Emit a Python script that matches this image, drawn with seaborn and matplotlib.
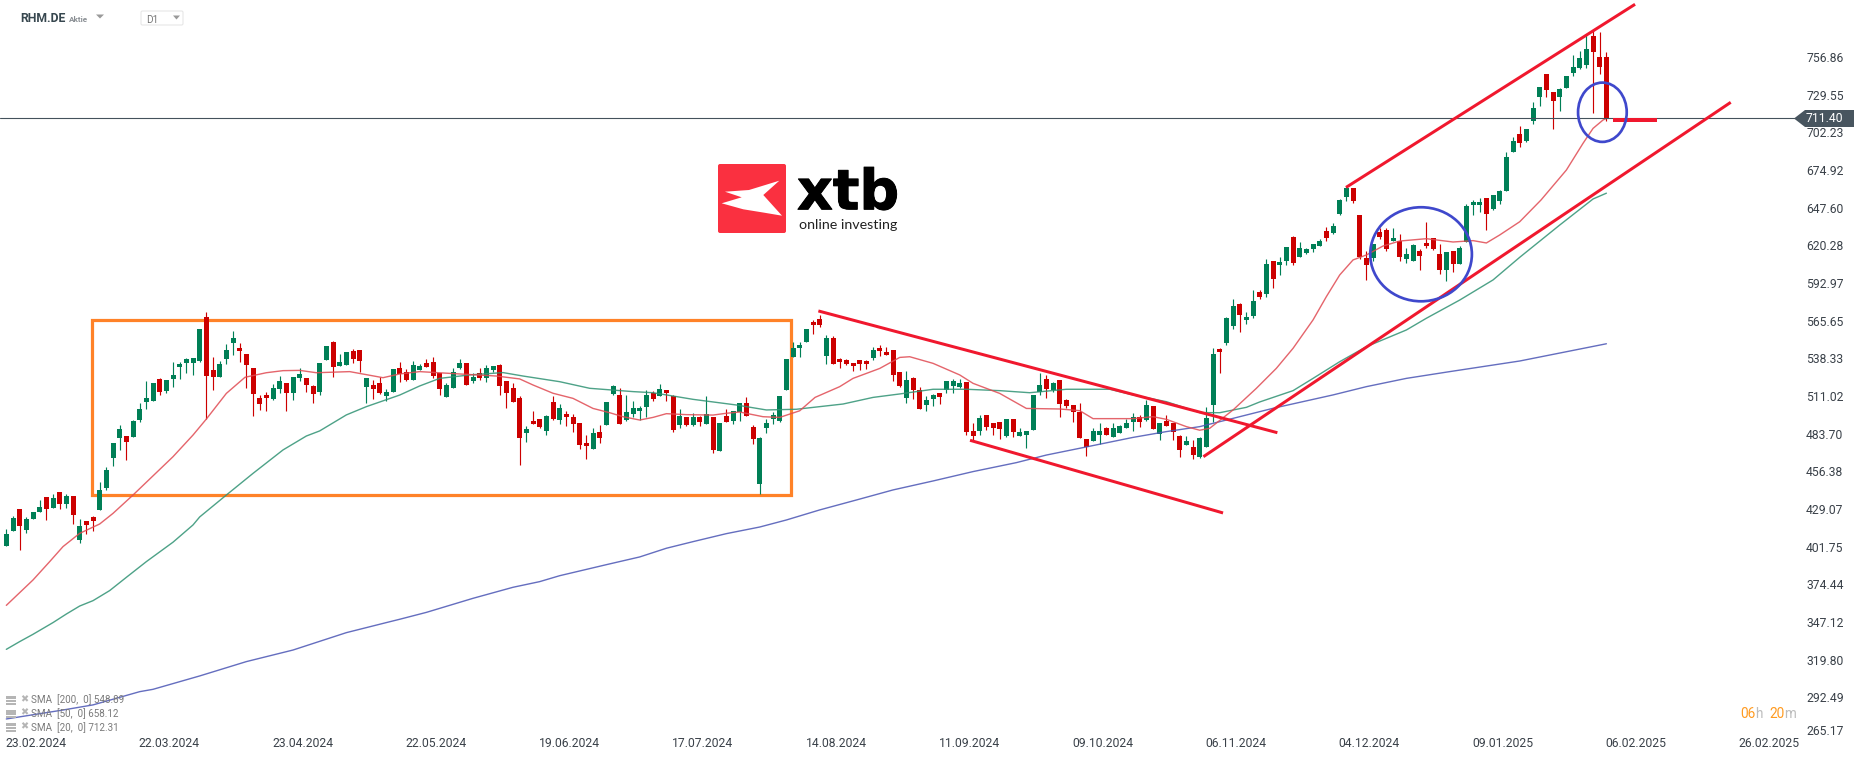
import numpy as np
import pandas as pd
import seaborn as sns
import matplotlib
matplotlib.use("Agg")
import matplotlib.pyplot as plt
import matplotlib.patheffects as pe
from matplotlib.patches import Rectangle, Ellipse, Polygon, FancyBboxPatch
from matplotlib.transforms import ScaledTranslation

opens = [402.5,413.4,429.1,414.1,421.8,426.9,437.8,429.8,441.4,432.7,
438.5,406.6,420.4,423.3,428.4,444.3,466.1,480.6,482.0,481.3,
493.6,506.7,507.4,523.4,514.6,523.4,532.1,535.0,535.0,536.4,
568.3,529.9,524.8,537.9,549.5,545.8,541.5,531.3,509.6,511.8,
508.9,516.1,520.5,513.2,524.1,524.1,518.3,513.9,537.1,550.2,
532.8,533.5,543.7,544.4,517.6,519.0,520.5,511.0,513.9,531.3,
528.4,522.6,529.9,535.0,535.7,527.7,510.3,516.8,531.3,535.0,
521.9,527.7,524.1,529.9,533.5,521.9,516.8,509.6,484.2,492.9,
494.3,485.6,506.7,493.6,498.0,495.8,491.4,476.9,472.6,484.9,
490.0,512.5,511.8,493.6,498.0,500.2,503.1,513.2,511.0,515.4,
511.0,490.0,495.8,490.0,495.8,490.7,495.8,471.2,496.5,492.9,
499.4,505.9,488.5,447.2,487.8,494.3,492.9,515.4,539.3,545.8,
550.2,564.7,566.9,540.0,553.1,537.9,537.1,535.0,537.1,536.4,
538.6,545.8,542.9,544.4,528.4,509.6,524.1,515.4,504.5,508.9,
513.2,515.4,518.3,517.6,521.2,485.6,485.6,497.2,491.4,492.2,
482.0,494.3,482.0,482.7,486.4,513.9,523.4,515.4,522.6,508.1,
504.5,499.4,479.9,478.4,482.7,487.8,481.3,484.2,487.8,492.2,
495.8,493.6,503.8,483.5,492.9,491.4,482.0,475.5,474.0,466.6,
474.3,504.5,545.1,549.5,561.8,577.8,566.1,569.0,586.4,585.0,
608.9,606.0,608.9,626.3,611.8,614.7,617.6,619.8,630.7,629.2,
643.0,655.3,661.9,642.3,611.1,611.1,630.0,631.4,623.4,623.4,
610.4,608.9,616.2,622.0,625.6,614.0,602.4,616.2,606.8,622.7,
649.5,649.5,654.6,646.6,652.4,659.7,688.0,701.0,696.0,710.5,
727.9,744.5,731.5,727.9,734.4,745.3,748.9,751.1,772.1,756.9,756.9]

highs = [414.6,424.0,429.1,423.3,426.9,435.6,437.8,440.0,441.4,440.0,
438.5,421.8,420.4,424.0,448.7,459.5,476.9,490.0,482.0,493.6,
505.9,521.9,520.5,524.1,522.6,535.7,535.7,538.6,538.6,559.6,
571.9,539.3,536.4,548.7,558.2,549.5,541.5,531.3,511.8,513.9,
519.7,525.5,520.5,524.8,531.3,524.1,519.0,535.0,547.3,550.9,
541.5,542.9,545.1,544.4,524.1,522.6,524.8,516.1,530.6,535.7,
530.6,536.4,534.0,537.9,539.3,527.7,520.5,531.3,537.9,535.0,
527.7,531.3,533.5,532.8,534.2,521.9,520.5,511.0,489.3,500.2,
494.3,497.2,511.0,505.2,500.2,498.0,491.4,482.7,487.8,490.0,
506.7,519.0,516.8,511.8,507.4,503.8,515.4,514.6,519.7,515.4,
511.8,501.6,495.8,498.7,496.5,511.0,495.8,491.4,501.6,500.2,
505.9,510.3,490.0,481.3,494.3,499.4,511.0,537.9,550.2,550.2,
559.6,566.1,569.8,555.3,554.5,538.6,537.9,535.0,537.1,537.1,
546.6,548.0,546.6,544.4,528.4,529.2,524.8,517.6,511.0,512.5,
513.2,521.9,523.4,523.4,521.2,491.4,497.2,497.2,491.4,492.2,
494.3,494.3,487.8,485.6,511.8,527.7,526.3,521.2,522.6,508.9,
504.5,505.9,479.9,487.8,491.4,488.5,491.4,490.0,494.3,498.7,
497.2,508.1,503.8,491.4,497.2,491.4,482.7,482.0,479.1,481.3,
503.1,545.8,545.8,568.3,581.4,578.5,572.0,587.9,587.9,610.4,
608.9,611.8,619.1,627.1,622.7,618.4,621.3,624.9,633.6,636.5,
653.9,663.3,661.9,642.3,616.2,621.3,632.9,632.9,632.9,628.5,
618.4,621.3,617.6,637.2,625.6,621.3,615.4,616.2,619.8,650.3,
653.2,654.6,654.6,656.8,660.4,688.0,698.9,706.8,704.7,724.2,
735.1,744.5,731.5,734.4,743.1,758.3,761.2,772.8,776.4,775.0,760.5]

lows = [402.5,413.4,399.6,411.9,421.8,426.9,421.1,429.8,429.1,429.8,
418.2,404.4,411.0,413.1,428.4,442.9,460.3,471.9,464.6,481.3,
492.2,501.6,507.4,511.8,513.2,517.6,523.4,527.7,526.3,535.7,
494.3,515.4,524.8,534.2,540.8,535.7,516.8,496.5,500.9,500.2,
508.1,513.2,500.2,508.1,521.9,513.9,505.9,511.8,537.1,524.8,
532.8,533.5,535.0,528.4,505.9,508.9,512.5,507.4,513.9,521.2,
521.9,522.6,529.9,532.1,524.1,511.8,510.3,516.8,530.6,519.0,
520.5,522.6,521.2,528.4,511.8,502.3,506.7,461.0,477.7,490.7,
487.8,482.7,493.6,490.7,489.3,484.9,472.6,465.3,472.6,476.9,
490.0,511.8,490.7,492.9,495.8,493.6,495.8,507.4,511.0,507.4,
484.9,487.8,489.3,489.3,489.3,490.7,469.7,471.2,492.2,490.7,
492.9,496.5,476.2,439.9,484.2,490.7,492.2,515.4,539.3,539.3,
550.2,556.0,561.1,534.2,534.2,531.3,533.5,529.2,529.9,530.6,
537.1,540.0,540.8,521.9,517.6,505.9,508.9,501.6,500.2,503.8,
505.2,513.2,513.2,516.8,482.7,479.1,482.7,486.4,482.7,479.9,
481.3,481.3,482.0,473.3,486.4,511.8,509.6,513.9,495.8,502.3,
492.2,480.6,467.5,478.4,476.2,482.7,481.3,484.2,487.8,485.6,
488.5,492.9,487.1,479.1,489.3,479.1,466.8,475.5,465.3,465.8,
474.3,492.2,527.7,548.0,559.6,557.4,563.2,567.6,581.4,582.8,
589.3,598.8,606.0,606.0,611.8,614.0,615.4,619.8,623.4,628.5,
642.3,652.4,651.0,610.4,595.2,608.9,624.9,616.2,623.4,608.9,
607.5,608.9,602.4,618.4,616.9,599.5,594.4,601.0,606.8,622.7,
642.3,644.5,631.4,645.9,650.3,659.7,688.0,691.6,695.2,708.3,
721.3,727.9,704.7,717.7,734.4,743.1,748.2,748.9,716.3,744.5,710.5]

closes = [411.0,422.6,416.8,421.8,426.9,430.5,429.1,437.1,432.7,438.5,
424.7,416.8,417.5,420.4,442.9,457.4,476.9,487.1,477.7,492.9,
501.6,509.6,520.5,513.9,522.6,526.3,534.2,537.9,538.6,559.6,
525.5,524.8,534.2,544.4,553.1,543.7,533.5,512.5,505.2,509.6,
516.8,521.9,513.2,524.8,527.0,519.0,512.5,535.0,547.3,532.1,
535.7,542.9,537.9,536.4,524.1,516.1,513.2,513.9,530.6,527.0,
522.6,533.5,532.8,532.1,525.5,516.1,519.0,528.4,535.0,519.0,
524.8,524.1,531.3,532.8,518.3,513.2,506.7,480.6,487.1,490.7,
488.5,496.5,494.3,502.3,495.8,490.7,475.5,474.8,484.2,480.6,
506.7,518.3,490.7,499.4,502.3,502.3,511.8,508.9,516.1,513.2,
486.4,496.5,490.0,495.8,492.2,498.0,471.9,491.4,492.2,500.2,
505.9,496.5,479.9,480.6,491.4,497.2,511.0,537.9,545.8,548.0,
559.6,562.5,562.5,553.1,534.2,535.7,534.2,532.8,534.2,534.2,
544.4,543.7,540.8,526.3,518.3,522.6,515.4,501.6,508.1,511.8,
510.3,521.9,521.9,520.5,484.9,482.0,495.1,488.5,487.8,487.1,
494.3,484.9,484.9,485.6,511.8,519.0,516.1,520.5,505.2,503.8,
499.4,480.6,474.0,485.6,485.6,482.7,487.8,489.3,491.4,495.8,
492.2,504.5,487.1,491.4,489.3,484.9,471.9,478.4,468.2,480.6,
495.1,541.5,543.0,567.6,576.3,569.8,568.3,579.9,582.8,606.8,
595.9,608.2,619.1,607.5,618.4,617.6,621.3,623.4,625.6,634.3,
653.2,661.9,652.4,611.8,606.0,621.3,626.3,617.6,625.6,611.8,
614.0,620.5,612.6,619.8,617.6,602.4,615.4,606.8,618.4,648.8,
651.7,651.7,643.0,656.8,659.7,684.4,696.0,694.5,704.7,719.9,
735.1,732.9,725.0,733.7,743.1,749.6,756.1,762.7,760.5,749.6,712.6]

sma20_idx = [0,2,4,6.5,8.5,11,14,16,19,25,28,30,33,35.8,39,41.5,44,46.5,51.5,56.5,59,62,68,73.5,77,79,82,85,88,90.5,92.5,95,97,99,102,106,108,110,113.5,116,119,121.3,125,127,131,134,135.5,139,143,145,149,153,158,161,163,169,172,174,177,179,180.5,184,187.5,190.5,193,196,198,200,202,204,206.5,209,213,217,220,222,224,227,230.2,234,236.5,238,239.5,240]
sma20_val = [359.2,368.4,377.6,390.9,401.8,411.4,418.2,425.9,439.2,467,482.7,494.3,512.9,524.6,527.9,529.4,529.6,527.9,528.7,524.3,527,528.7,527,525.5,523.4,519,513,509.3,502,498.9,496,493.6,495.5,498.2,497.5,497.2,498.5,499.4,496,495.5,500.3,510,517.8,523.8,531,539,539.5,534.7,526.3,520.2,512.9,502,501.6,500.4,494.6,494.6,496,494.1,488.8,486.2,487.6,500.9,516.6,531.1,545.6,566.2,583.1,598.8,609.7,613.3,619.8,623.4,625.1,622.7,623.7,622,627.8,637.4,653.2,674.9,694.3,705.1,711.2,712.3]
sma50_idx = [0,2,4,7,9,11,13,15.5,18,21,25,28,29,33,37,41.5,45,47,51,54,59,62,65,69.5,74.5,77.5,83,87.5,94,97,103,109.5,114,118.5,125.5,130,134,139,144,149,153.5,159,165.5,169,174,179,182,186,188,193,196,200,204,210,213,218,223,227,233,238,240]
sma50_val = [327.3,332.9,338.2,346.7,352.9,358.7,362.6,369.9,379.5,390.9,405,417.5,423.3,439.2,454.9,471.9,482,485.7,497.3,503.3,511.7,518.3,523.8,526.3,528,525.5,521.4,516.6,514.2,513.4,508.6,504.5,500.9,501.4,505.2,510,512.5,515.9,515.9,514.9,513.4,515.9,515.9,511.8,506.9,499,498.9,502.8,506.7,514.9,523.8,535.9,546.8,558.9,567.4,580.6,595.2,611.6,635,653.9,658.1]
sma200_idx = [0,8.5,13,16.5,20,22,29,36,43,51,57,59,63,70,76,80,83,90,95,99,103,108,113,117,122,127.5,133,139,145,151.5,156,161.5,169,174,179,184,190,199,204,210,216.5,227,240]
sma200_val = [276.8,283.3,287,291.8,296.6,298.3,308,318.4,326.8,339.4,346.7,349.1,354.1,364.3,372.3,376.4,380.7,388.7,394.3,400.6,405.4,411.2,416,421.1,428.4,435.6,442.9,449.4,456.2,462.7,468.2,473.6,481,485.2,488.8,494.8,502.1,511.8,517.8,523.8,528.7,536.4,548.9]

price_ticks = [756.86,729.55,702.23,674.92,647.60,620.28,592.97,565.65,538.33,511.02,483.70,456.38,429.07,401.75,374.44,347.12,319.80,292.49,265.17]
date_labels = ["23.02.2024","22.03.2024","23.04.2024","22.05.2024","19.06.2024","17.07.2024","14.08.2024","11.09.2024","09.10.2024","06.11.2024","04.12.2024","09.01.2025","06.02.2025","26.02.2025"]
legend_rows = ["SMA  [200,  0] 548.89","SMA  [50,  0] 658.12","SMA  [20,  0] 712.31"]

# drawn annotations (candle index, price)
trend_lines = [((121.8,190.65),(572.7,484.4)),((144.55,182.5),(478.9,426.2)),((179.55,258.65),(467.0,724.0)),((200.95,244.3),(662.3,795.1))]
last_stub = ((241.05,247.55),(711.0,711.0))
box_x, box_y = (12.9,117.7),(439.0,565.9)
ellipses = [(212.2,613.8,15.25,68.2),(239.4,716.8,7.3,43.0)]
last_line = 712.4

sns.set_theme(style="white")
plt.rcParams['font.family'] = ['Roboto','DejaVu Sans']

W,H = 1866,759
fig = plt.figure(figsize=(W/100,H/100),dpi=100,facecolor="white")
ax = fig.add_axes([0,(H-736)/H,1795/W,736/H])
px = 0.72
GREEN,RED = "#007f56","#cc0000"
o,h,l,c = map(np.array,(opens,highs,lows,closes))
idx = np.arange(len(o))
up = c>=o
colors = np.where(up,GREEN,RED)

lo,hi = box_y
ax.add_patch(Rectangle((box_x[0],lo),box_x[1]-box_x[0],hi-lo,fill=False,ec="#ff8228",lw=3.2*px,zorder=1))

ax.vlines(idx,l,h,colors=colors,lw=1.15*px,zorder=3)
ax.bar(idx,np.abs(c-o),bottom=np.minimum(o,c),width=0.75,color=colors,linewidth=0,zorder=3)

for xs,ys,col in ((sma200_idx,sma200_val,"#4a55b4"),(sma50_idx,sma50_val,"#2f9273"),(sma20_idx,sma20_val,"#e04a52")):
    sns.lineplot(data=pd.DataFrame({"i":xs,"v":ys}),x="i",y="v",color=col,lw=1.4*px,alpha=0.85,ax=ax,estimator=None,errorbar=None,legend=False,zorder=4)

ax.axhline(last_line,color="#44525c",lw=1.1*px,zorder=5)
for xs,ys in trend_lines:
    ax.plot(xs,ys,color="#f0182e",lw=3.0*px,solid_capstyle="butt",zorder=6)
ax.plot(*last_stub,color="#f0182e",lw=4*px,solid_capstyle="butt",zorder=6)
for ex,ey,ew,eh in ellipses:
    ax.add_patch(Ellipse((ex,ey),ew,eh,fill=False,ec="#3f48cc",lw=2.7*px,zorder=7))

ax.set_xlim(-0.95,268.29)
ax.set_ylim(264.45,798.2)
ax.set_xlabel("");ax.set_ylabel("")
for s in ax.spines.values():
    s.set_visible(False)
ax.set_xticks(4.45+20*np.arange(len(date_labels)))
ax.set_xticklabels(date_labels)
ax.yaxis.tick_right()
ax.set_yticks(price_ticks)
ax.set_yticklabels([f"{t:.2f}" for t in price_ticks])
ax.tick_params(axis="x",length=0,pad=0.5,labelsize=8.7,labelcolor="#3a4149")
ax.tick_params(axis="y",length=0,pad=8,labelsize=8.7,labelcolor="#3a4149")
lab = ax.get_yticklabels()[-1]
lab.set_transform(lab.get_transform()+ScaledTranslation(0,5/100,fig.dpi_scale_trans))

# fixed screen furniture, in pixel coordinates of the figure
ov = fig.add_axes([0,0,1,1],facecolor="none",zorder=10)
ov.set_xlim(0,W);ov.set_ylim(H,0);ov.axis("off")
ov.add_patch(Polygon([(1794,118.5),(1805,110),(1854,110),(1854,127),(1805,127)],fc="#48555f",ec="none"))
ov.text(1806,119,"711.40",color="white",fontsize=8.7,va="center",ha="left")

ov.add_patch(FancyBboxPatch((719,165),66,67,boxstyle="round,pad=1,rounding_size=2",fc="#fa3040",ec="none"))
ov.add_patch(Polygon([(725,191.7),(749,190),(779.3,180.7),(763.3,195),(782,215.7),(764.3,212.7),(743.3,209.3),(721.7,203.3),(741.7,197.3)],fc="white",ec="none"))
ov.text(797,209.3,"xtb",family="DejaVu Sans",weight="bold",fontsize=40,color="black",va="baseline",ha="left",
        path_effects=[pe.withStroke(linewidth=0.7,foreground="black")])
ov.text(799,229,"online investing",family="Lato",fontsize=10.3,color="#222222",va="baseline",ha="left")

ov.text(20,19,"RHM.DE",weight="bold",fontsize=8.8,color="#37474f",va="center")
ov.text(69,19.5,"Aktie",fontsize=5.9,color="#8a8f94",va="center",weight="bold")
ov.add_patch(Polygon([(96,14.5),(104,14.5),(100,18.5)],fc="#9a9a9a",ec="none"))
ov.add_patch(FancyBboxPatch((141,11),42,14,boxstyle="round,pad=0,rounding_size=1.5",fc="white",ec="#e6e6e6",lw=0.8))
ov.text(146,20,"D1",fontsize=7.2,color="#777777",va="center")
ov.add_patch(Polygon([(173,15.5),(180,15.5),(176.5,19.5)],fc="#9a9a9a",ec="none"))

for row,y in zip(legend_rows,(700,713.5,727.3)):
    for dy,hh in ((-4,3),(-0.5,2),(2.5,2)):
        ov.add_patch(Rectangle((6,y+dy),10,hh,fc="#b5b5b5",ec="none"))
    ov.text(24,y-1,"✖",family="DejaVu Sans",fontsize=7,color="#b5b5b5",ha="center",va="center")
    ov.text(31,y,row,fontsize=7.1,color="#7a7a7a",va="center")

for x,t,col in ((1740,"06","#ff9a1f"),(1755.5,"h","#bdbdbd"),(1769,"20","#ff9a1f"),(1784.5,"m","#bdbdbd")):
    ov.text(x,714,t,fontsize=9.8,color=col,va="center")

fig.savefig("out.png",dpi=100,facecolor="white")
